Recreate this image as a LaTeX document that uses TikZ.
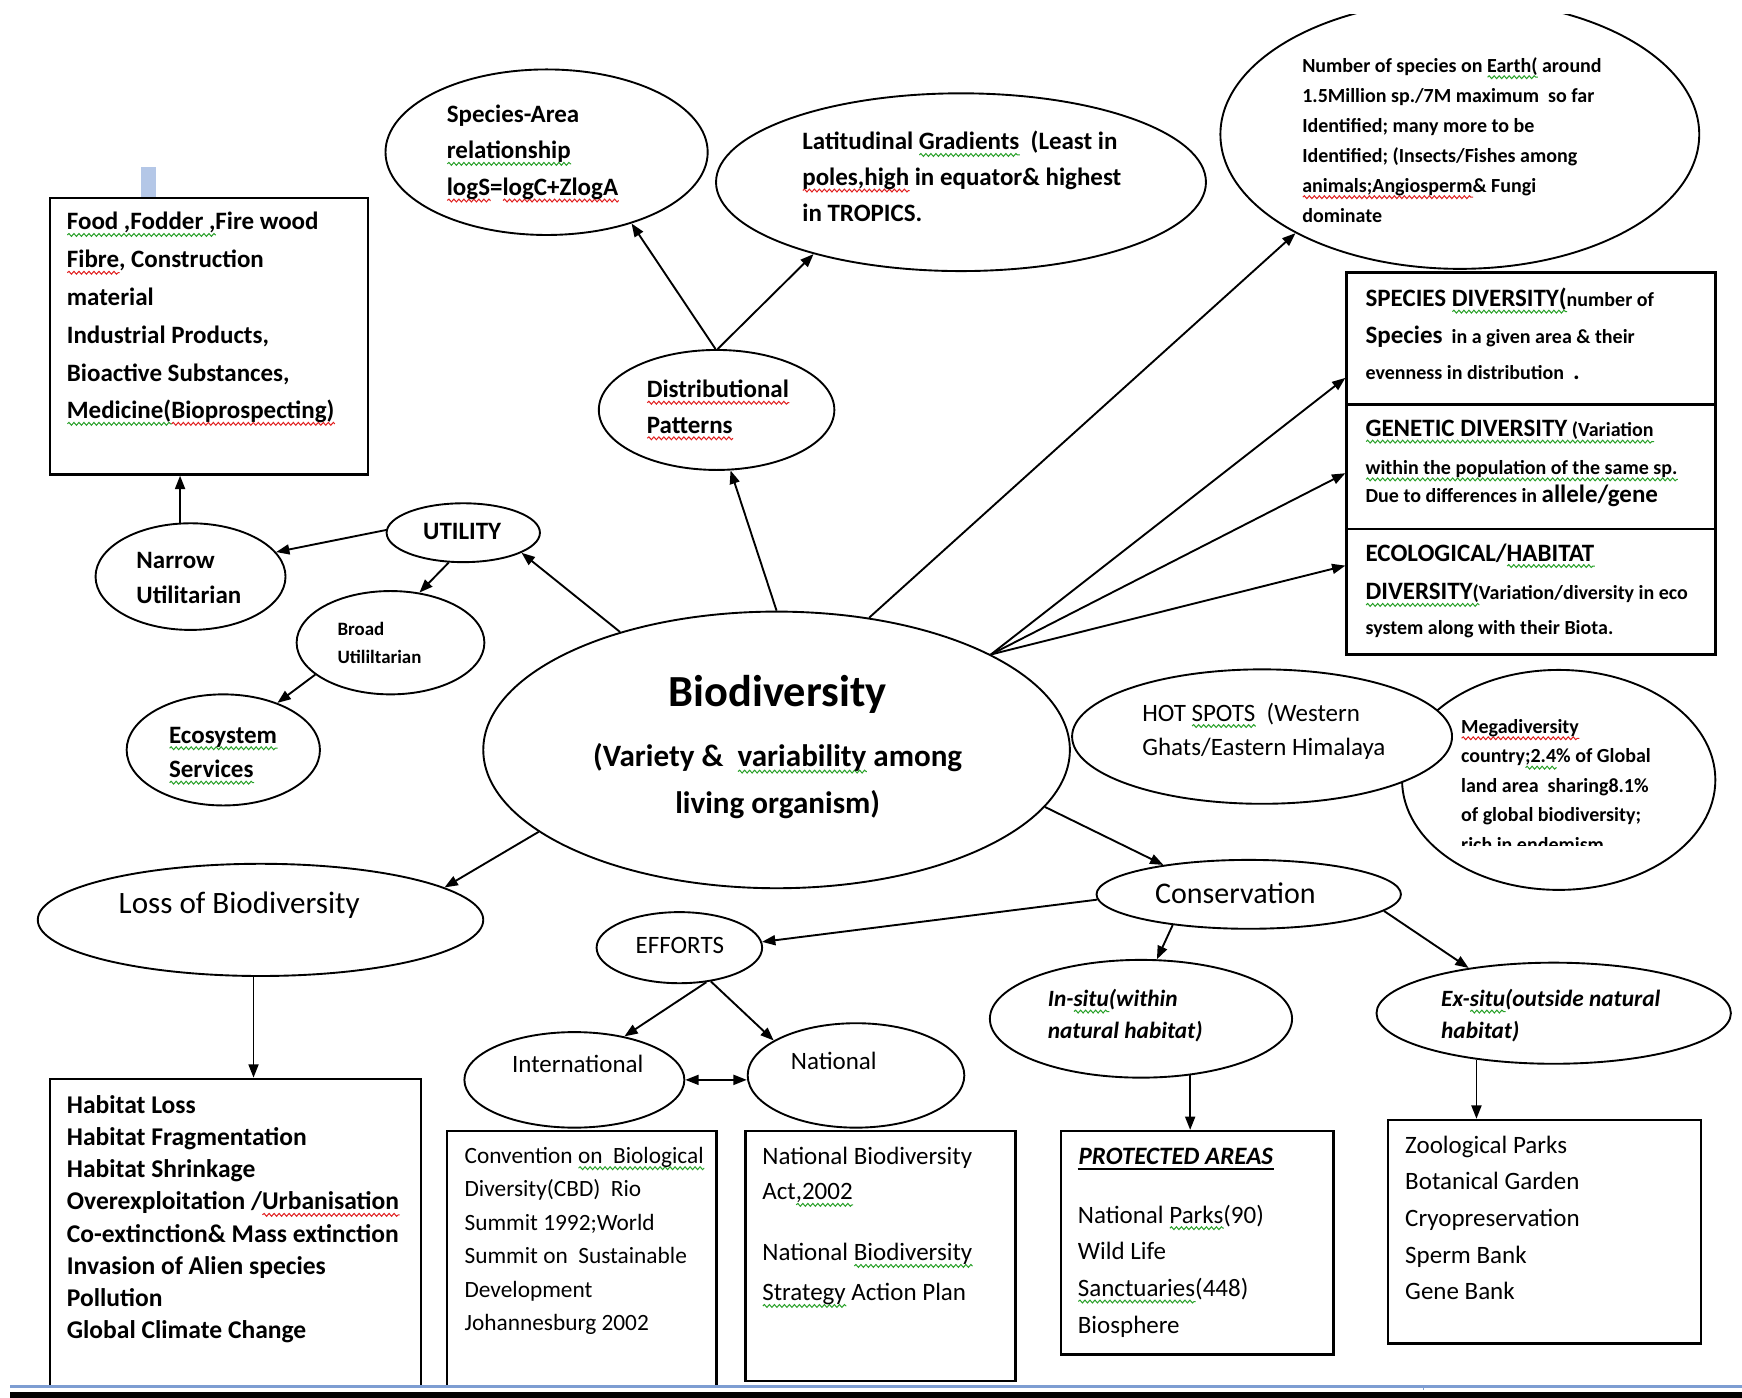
\documentclass[tikz,border=0pt]{standalone}
\usepackage{fontspec}
\setmainfont{Carlito}
\usetikzlibrary{arrows.meta,shapes.geometric,decorations.pathmorphing}

\definecolor{sqgreen}{RGB}{40,160,40}
\definecolor{sqred}{RGB}{225,30,30}
\definecolor{paleblue}{RGB}{180,199,231}
\definecolor{ruleblue}{RGB}{125,157,210}

% wavy proofing underlines
\newsavebox\wavebox
\newlength\wavelen
\newcommand\wavy[2]{\sbox\wavebox{#2}\setlength\wavelen{\wd\wavebox}%
  \rlap{\tikz[baseline=0pt]\draw[#1,line width=0.9pt,decorate,
    decoration={snake,amplitude=1.3pt,segment length=4.5pt}]
    (0pt,-4.5pt) -- (\wavelen,-4.5pt);}\usebox\wavebox}
\newcommand\gw{\wavy{sqgreen}}
\newcommand\rw{\wavy{sqred}}
\newcommand\setfs[2]{\fontsize{#1}{#2}\selectfont}
\newcommand\bigpart[1]{{\setfs{22.5}{30}#1}}

% multi-line text nodes are placed by the baseline of their LAST line
\tikzset{
  oval/.style 2 args={ellipse, draw, fill=white, inner sep=0pt,
    minimum width=#1pt, minimum height=#2pt},
  boxn/.style 2 args={rectangle, draw, line width=2.2pt, inner sep=0pt,
    anchor=north west, minimum width=#1pt, minimum height=#2pt},
  link/.style={-{Triangle[length=12pt,width=9pt]}},
  txt/.style={inner sep=0pt, align=left, anchor=base west},
  ctxt/.style={inner sep=0pt, anchor=base},
}

\begin{document}
\begin{tikzpicture}[x=1pt, y=-1pt, line width=1.7pt]
\useasboundingbox (0,0) rectangle (1568,1258);
\fill[white] (0,0) rectangle (1568,1258);

% small tab above the utility box
\fill[paleblue] (127,150) rectangle (140,177);

% ---------- boxes ----------
\node[boxn={286}{249}] (food) at (44,177) {};
\node[boxn={332}{119}] (spbox) at (1211,244) {};
\node[boxn={332}{112}] (genbox) at (1211,363) {};
\node[boxn={332}{113}] (ecobox) at (1211,475) {};
\node[boxn={334}{292}] (habitat) at (44,970) {};
\node[boxn={243}{245}] (conv) at (401,1017) {};
\node[boxn={243}{225}] (natbox) at (670,1017) {};
\node[boxn={245}{201}] (prot) at (954,1017) {};
\node[boxn={282}{201}] (zoo) at (1248,1007) {};

% ---------- ellipses ----------
\node[oval={290}{149}] (sparea) at (492,137) {};
\node[oval={441}{160}] (latit) at (865,164) {};
\begin{scope}
  \clip (1050,13) rectangle (1568,300);
  \node[oval={431}{242}] (number) at (1314,121) {};
\end{scope}
\node[oval={212}{108}] (dist) at (645,369) {};
\node[oval={171}{96}] (narrow) at (171.5,519) {};
\node[oval={138}{53}] (utility) at (417,479.5) {};
\node[oval={169}{93}] (broad) at (351.5,578.5) {};
\node[oval={174}{100}] (eco) at (201,675) {};
\node[oval={528}{249}] (bio) at (699,675) {};
\node[oval={282}{198}] (mega) at (1403,702) {};
\node[oval={342}{121}] (hot) at (1136,663) {};
\node[oval={274}{62}] (cons) at (1124,805) {};
\node[oval={401}{101}] (loss) at (234.5,828) {};
\node[oval={149}{64}] (efforts) at (611.5,853) {};
\node[oval={198}{86}] (intl) at (517,972) {};
\node[oval={195}{94}] (natl) at (770.5,968) {};
\node[oval={272}{106}] (insitu) at (1027,917) {};
\node[oval={319}{91}] (exsitu) at (1398.5,912) {};

% ---------- texts ----------
\node[txt, font=\bfseries\setfs{22.5}{34}] (foodtxt) at (60,377)
  {\gw{Food ,Fodder ,}Fire wood\\\rw{Fibre}, Construction\\material\\Industrial Products,\\Bioactive Substances,\\\gw{Medicine(}\rw{Bioprospecting)}};
\node[txt, font=\bfseries\setfs{22.5}{31}] (narrowtxt) at (122,543) {Narrow\\Utilitarian};
\node[ctxt, font=\bfseries\setfs{22.5}{30}] (utiltxt) at (416,486) {UTILITY};
\node[txt, font=\bfseries\setfs{17}{25}] (broadtxt) at (303,597) {Broad\\Utililtarian};
\node[txt, font=\bfseries\setfs{22.5}{31}] (ecotxt) at (152,700) {\gw{Ecosystem}\\\gw{Services}};

\node[ctxt, font=\bfseries\setfs{40}{48}] (biotitle) at (700,636) {Biodiversity};
\node[ctxt, align=center, font=\bfseries\setfs{28}{42}] (biosub) at (700,732)
  {(Variety \&\ \ \gw{variability} among\\living organism)};

\node[txt, font=\bfseries\setfs{22.5}{32}] (disttxt) at (582,390) {\rw{Distributional}\\\rw{Patterns}};
\node[txt, font=\bfseries\setfs{22.5}{33}] (spareatxt) at (402,176)
  {Species-Area\\\gw{relationship}\\\rw{logS}=\rw{logC+ZlogA}};
\node[txt, font=\bfseries\setfs{22.5}{32}] (latittxt) at (722,199)
  {Latitudinal \gw{Gradients}\ \ (Least in\\\rw{poles,high} in equator\& highest\\in TROPICS.};
\node[txt, font=\bfseries\setfs{18}{27}] (numtxt) at (1172,200)
  {Number of species on \gw{Earth(} around\\1.5Million sp./7M maximum\ \ so far\\Identified; many more to be\\Identified; (Insects/Fishes among\\\rw{animals;Angiosperm}\& Fungi\\dominate};

\node[txt, font=\bfseries\setfs{18}{33}] (sptxt) at (1229,342)
  {\bigpart{SPECIES \gw{DIVERSITY(}}number of\\\bigpart{Species}\ \ in a given area \& their\\evenness in distribution\ \ \bigpart{.}};
\node[txt, font=\bfseries\setfs{18}{25}] (gentxt) at (1229,452)
  {\gw{\bigpart{GENETIC DIVERSITY} (Variation}\\[9pt]\gw{within the population of the same sp.}\\Due to differences in \bigpart{allele/gene}};
\node[txt, font=\bfseries\setfs{18}{31}] (ecoltxt) at (1229,571)
  {\bigpart{ECOLOGICAL/\gw{HABITAT}}\\[4pt]\gw{\bigpart{DIVERSITY}(}Variation/diversity in eco\\system along with their Biota.};

\node[txt, font=\setfs{22.5}{31}] (hottxt) at (1028,680) {HOT \gw{SPOTS}\ \ (Western\\Ghats/Eastern Himalaya};
\begin{scope}
  \clip (1300,600) rectangle (1500,761);
  \node[txt, font=\bfseries\setfs{18}{26.5}] (megatxt) at (1315,766)
    {\rw{Megadiversity}\\country\gw{;2.4}\% of Global\\land area\ \ sharing8.1\%\\of global biodiversity;\\rich in endemism};
\end{scope}

\node[ctxt, font=\setfs{27}{32}] (constxt) at (1112,813) {Conservation};
\node[txt, font=\setfs{28}{34}] (losstxt) at (106,822) {Loss of Biodiversity};
\node[txt, font=\bfseries\setfs{23}{29}] (habtxt) at (60,1205)
  {Habitat Loss\\Habitat Fragmentation\\Habitat Shrinkage\\Overexploitation /\rw{Urbanisation}\\Co-extinction\& Mass extinction\\Invasion of Alien species\\Pollution\\Global Climate Change};

\node[ctxt, font=\setfs{22.5}{30}] (effortstxt) at (612,858) {EFFORTS};
\node[ctxt, font=\setfs{22.5}{30}] (intltxt) at (520,965) {International};
\node[ctxt, font=\setfs{22.5}{30}] (natltxt) at (750.5,963) {National};

\node[txt, font=\setfs{21}{30.2}] (convtxt) at (418,1198)
  {Convention \gw{on\ \ Biological}\\Diversity(CBD)\ \ Rio\\Summit 1992;World\\Summit on\ \ Sustainable\\Development\\Johannesburg 2002};
\node[txt, font=\setfs{22.5}{32}] (natbtxta) at (686,1080) {National Biodiversity\\Act\gw{,2002}};
\node[txt, font=\setfs{22.5}{36}] (natbtxtb) at (686,1171) {National \gw{Biodiversity}\\\gw{Strategy} Action Plan};

\node[txt, font=\bfseries\itshape\setfs{21}{29}] (insitutxt) at (943,935) {In-\gw{situ}(within\\natural habitat)};
\node[txt, font=\bfseries\itshape\setfs{21}{29}] (exsitutxt) at (1297,935) {Ex-\gw{situ}(outside natural\\habitat)};

\node[txt, font=\bfseries\itshape\setfs{22.5}{30}] (prothead) at (970,1048) {PROTECTED AREAS};
\draw[line width=1.6pt] ([yshift=-4pt]prothead.base west) -- ([yshift=-4pt]prothead.base east);
\node[txt, font=\setfs{22.5}{33}] (prottxt) at (970,1200)
  {National \gw{Parks}(90)\\Wild Life\\\gw{Sanctuaries}(448)\\Biosphere};
\node[txt, font=\setfs{22.5}{33}] (zootxt) at (1264,1170)
  {Zoological Parks\\Botanical Garden\\Cryopreservation\\Sperm Bank\\Gene Bank};

% ---------- connectors ----------
\draw[link] (narrow.101) -- (narrow.101 |- food.south);
\draw[link] (utility.178) -- (narrow.16);
\draw[link] (utility.244) -- (broad.60);
\draw[link] (broad.203) -- (eco.41);
\draw[link] (bio.143) -- (utility.341);
\draw[link] (bio.90) -- (dist.283);
\draw[link] (dist.91) -- (sparea.320);
\draw[link] (dist.89) -- (latit.206);
\draw[link] (bio.55) -- (number.211);
\draw[link] (bio.24) -- (spbox.192);
\draw[link] (bio.24) -- (genbox.182);
\draw[link] (bio.24) -- (ecobox.172);
\draw[link] (bio.348) -- (cons.161);
\draw[link] (bio.199) -- (loss.10);
\draw[link] (loss.263) -- (loss.263 |- habitat.north);
\draw[link] (cons.182) -- (efforts.4);
\draw[link] (cons.202) -- (insitu.75);
\draw[link] (cons.353) -- (exsitu.152);
\draw[link] (efforts.308) -- (intl.41);
\draw[link] (efforts.313) -- (natl.157);
\draw[{Triangle[length=12pt,width=9pt]}-{Triangle[length=12pt,width=9pt]}]
  (intl.east) -- (intl.east -| natl.west);
\draw[link] (insitu.311) -- (insitu.311 |- prot.north);
\draw[link] (exsitu.211) -- (exsitu.211 |- zoo.north);

% ---------- page foot ----------
\fill[white] (0,1249.5) rectangle (1568,1258);
\fill[ruleblue] (9,1246.8) rectangle (1568,1249.5);
\fill[ruleblue] (1280.5,1249.5) rectangle (1281.5,1251.5);
\fill[black] (9,1253) rectangle (1568,1258);
\end{tikzpicture}
\end{document}
